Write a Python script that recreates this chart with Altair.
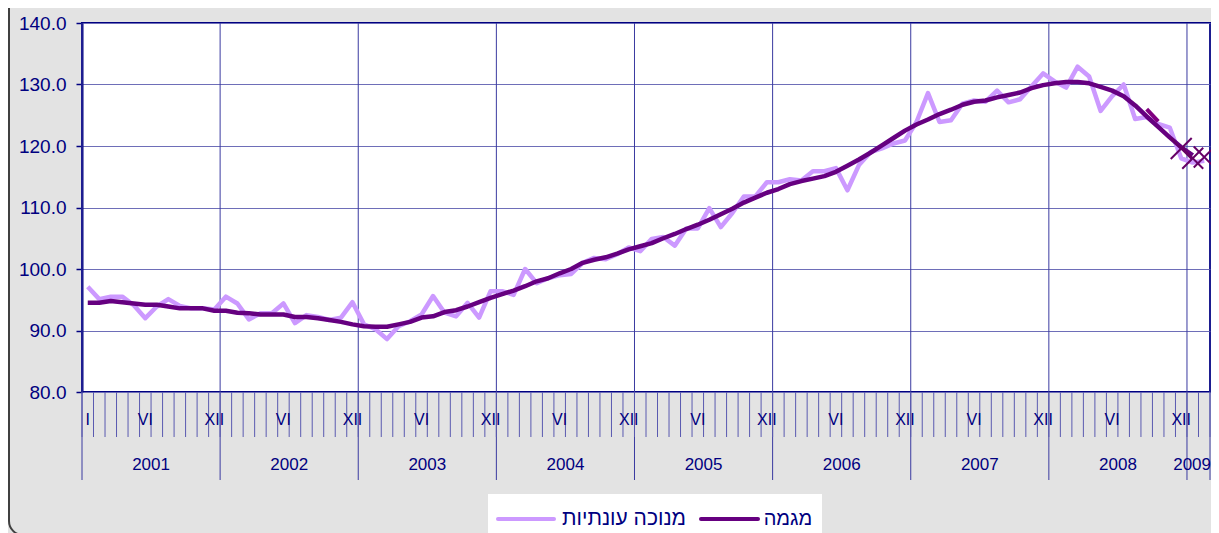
import altair as alt
import pandas as pd

# ---------------- data ----------------
# monthly index, Jan 2001 .. Feb 2009 (98 months)
seasonally_adjusted = [
    97.1, 95.1, 95.5, 95.5, 94.1, 92.0, 93.9, 95.1, 94.0, 93.6, 93.6, 93.4,      # 2001
    95.5, 94.4, 91.8, 92.8, 92.8, 94.4, 91.2, 92.5, 92.2, 91.7, 92.1, 94.6,      # 2002
    91.0, 90.2, 88.6, 90.7, 91.5, 92.6, 95.6, 92.9, 92.3, 94.5, 92.1, 96.4,      # 2003
    96.4, 95.8, 100.0, 97.7, 98.5, 99.0, 99.2, 101.0, 101.8, 101.6, 102.4, 103.5,  # 2004
    102.9, 104.9, 105.2, 103.8, 106.6, 106.6, 109.9, 106.8, 109.1, 111.8, 111.8, 114.1,  # 2005
    114.1, 114.6, 114.4, 115.9, 115.9, 116.4, 112.8, 116.9, 119.0, 119.6, 120.4, 120.9,  # 2006
    123.9, 128.6, 123.9, 124.2, 126.9, 127.4, 127.2, 129.0, 127.1, 127.6, 129.7, 131.8,  # 2007
    130.5, 129.5, 132.9, 131.3, 125.7, 128.1, 130.0, 124.4, 124.7, 123.6, 123.0, 118.0,  # 2008
    117.3, 117.6,                                                                   # 2009
]
trend = [
    94.5, 94.5, 94.8, 94.6, 94.4, 94.2, 94.2, 93.9, 93.6, 93.6, 93.6, 93.2,
    93.2, 92.9, 92.8, 92.6, 92.6, 92.6, 92.2, 92.2, 92.0, 91.7, 91.4, 91.0,
    90.7, 90.6, 90.6, 91.0, 91.4, 92.1, 92.3, 93.0, 93.3, 93.9, 94.6, 95.3,
    95.9, 96.5, 97.2, 98.0, 98.5, 99.3, 100.0, 101.0, 101.5, 101.9, 102.5, 103.2,
    103.7, 104.2, 105.0, 105.7, 106.5, 107.2, 108.0, 108.9, 109.8, 110.8, 111.6, 112.4,
    113.0, 113.8, 114.3, 114.7, 115.1, 115.8, 116.8, 117.8, 118.9, 120.1, 121.3, 122.5,
    123.5, 124.3, 125.2, 125.9, 126.7, 127.2, 127.4, 127.9, 128.3, 128.7, 129.4, 129.9,
    130.2, 130.4, 130.4, 130.2, 129.6, 129.0, 128.1, 126.6, 124.8, 123.1, 121.4, 119.8,
    118.5,
]
prev_trend_months = [92, 93]
prev_trend_values = [126.0, 124.0]
cross_months = [95, 96, 97]
cross_values = [119.6, 118.0, 118.2]

years = ["2001", "2002", "2003", "2004", "2005", "2006", "2007", "2008", "2009"]
month_labels = ["I", "VI", "XII"]
y_ticks = [80, 90, 100, 110, 120, 130, 140]
series_names = ["מנוכה עונתיות", "מגמה"]
series_colors = ["#CC99FF", "#660080"]

N_MONTHS = 98
FONT = "Liberation Sans"
NAVY = "#000080"

# ---------------- tables ----------------
rows = []
for i, v in enumerate(seasonally_adjusted):
    rows.append({"pos": i + 0.5, "value": v, "series": series_names[0]})
for i, v in enumerate(trend):
    rows.append({"pos": i + 0.5, "value": v, "series": series_names[1]})
lines_df = pd.DataFrame(rows)

prev_df = pd.DataFrame({"pos": [m + 0.5 for m in prev_trend_months], "value": prev_trend_values})
cross_df = pd.DataFrame({"pos": [m + 0.5 for m in cross_months], "value": cross_values})

month_tick_df = pd.DataFrame({"pos": list(range(0, N_MONTHS + 1))})
year_tick_df = pd.DataFrame({"pos": list(range(0, N_MONTHS, 12)) + [N_MONTHS]})

mlab = [{"pos": 0.5, "label": month_labels[0]}]
for y in range(8):
    mlab.append({"pos": 12 * y + 5.5, "label": month_labels[1]})
    mlab.append({"pos": 12 * y + 11.5, "label": month_labels[2]})
month_label_df = pd.DataFrame(mlab)

# full years centred in their span; the last (partial) year right-aligned at the plot end
year_label_df = pd.DataFrame([{"pos": 12 * k + 6, "label": yname} for k, yname in enumerate(years[:-1])])
last_year_df = pd.DataFrame([{"pos": N_MONTHS, "label": years[-1]}])

xscale = alt.Scale(domain=[0, N_MONTHS], nice=False, zero=False)
yscale = alt.Scale(domain=[80, 140], nice=False, zero=False)

H = 369

# year boundary lines (grid inside plot + long ticks below)
year_rules = alt.Chart(year_tick_df).mark_rule(color="#3A3AA0", strokeWidth=1).encode(
    x=alt.X("pos:Q", scale=xscale, axis=None),
    y=alt.value(0),
    y2=alt.value(457),
)
month_rules = alt.Chart(month_tick_df).mark_rule(color="#5A5AB0", strokeWidth=1).encode(
    x=alt.X("pos:Q", scale=xscale, axis=None),
    y=alt.value(H),
    y2=alt.value(H + 45),
)

lines = alt.Chart(lines_df).mark_line(strokeWidth=4.5, strokeJoin="round", strokeCap="butt").encode(
    x=alt.X("pos:Q", scale=xscale, axis=None),
    y=alt.Y(
        "value:Q",
        scale=yscale,
        axis=alt.Axis(
            values=y_ticks, format=".1f", title=None, grid=True,
            gridColor="#6E6EB8", gridWidth=1,
            tickColor=NAVY, tickSize=6, tickWidth=1.5,
            domainColor=NAVY, domainWidth=2,
            labelColor=NAVY, labelFont=FONT, labelFontSize=19, labelPadding=10,
        ),
    ),
    color=alt.Color("series:N", scale=alt.Scale(domain=series_names, range=series_colors), legend=None),
    order=alt.Order("pos:Q"),
)

prev_line = alt.Chart(prev_df).mark_line(strokeWidth=4, color="#800080").encode(
    x=alt.X("pos:Q", scale=xscale, axis=None),
    y=alt.Y("value:Q", scale=yscale),
)

crosses = alt.Chart(cross_df).mark_point(
    shape="M-1,-1L1,1M-1,1L1,-1", filled=False, size=440, strokeWidth=2,
    color="#660066", opacity=1,
).encode(
    x=alt.X("pos:Q", scale=xscale, axis=None),
    y=alt.Y("value:Q", scale=yscale),
)

month_text = alt.Chart(month_label_df).mark_text(
    font=FONT, fontSize=16, color=NAVY, baseline="middle", align="center"
).encode(
    x=alt.X("pos:Q", scale=xscale, axis=None),
    y=alt.value(H + 28),
    text="label:N",
)
year_text = alt.Chart(year_label_df).mark_text(
    font=FONT, fontSize=17, color=NAVY, baseline="middle", align="center"
).encode(
    x=alt.X("pos:Q", scale=xscale, axis=None),
    y=alt.value(H + 73),
    text="label:N",
)
last_year_text = alt.Chart(last_year_df).mark_text(
    font=FONT, fontSize=17, color=NAVY, baseline="middle", align="right", dx=1
).encode(
    x=alt.X("pos:Q", scale=xscale, axis=None),
    y=alt.value(H + 73),
    text="label:N",
)

# ---------------- legend (drawn by hand) ----------------
one = pd.DataFrame({"a": [0]})
leg_box = alt.Chart(one).mark_rect(fill="white").encode(
    x=alt.value(406), x2=alt.value(740), y=alt.value(471), y2=alt.value(530)
)
leg_sym0 = alt.Chart(one).mark_rule(color=series_colors[0], strokeWidth=4, strokeCap="round").encode(
    x=alt.value(416), x2=alt.value(472), y=alt.value(496)
)
leg_txt0 = alt.Chart(one).mark_text(
    text=series_names[0], font=FONT, fontSize=21, color=NAVY, align="center", baseline="middle"
).encode(x=alt.value(542), y=alt.value(496))
leg_sym1 = alt.Chart(one).mark_rule(color=series_colors[1], strokeWidth=4, strokeCap="round").encode(
    x=alt.value(619), x2=alt.value(676), y=alt.value(496)
)
leg_txt1 = alt.Chart(one).mark_text(
    text=series_names[1], font=FONT, fontSize=20, color=NAVY, align="center", baseline="middle"
).encode(x=alt.value(706), y=alt.value(496))

frame = alt.Chart(one).mark_rect(fillOpacity=0, stroke="#404040", strokeWidth=2, cornerRadius=14).encode(
    x=alt.value(-73), x2=alt.value(1300), y=alt.value(-60), y2=alt.value(512)
)

chart = alt.layer(
    year_rules, month_rules, lines, prev_line, crosses,
    month_text, year_text, last_year_text,
    leg_box, leg_sym0, leg_txt0, leg_sym1, leg_txt1, frame,
).properties(
    width=1128, height=H,
    autosize=alt.AutoSizeParams(type="none"),
    padding={"left": 74, "top": 15, "right": 1, "bottom": 141},
    background="#E3E3E3",
).configure_view(
    fill="white", stroke=NAVY, strokeWidth=2
)

chart.save("out.html", embed_options={"renderer": "svg", "actions": False})
